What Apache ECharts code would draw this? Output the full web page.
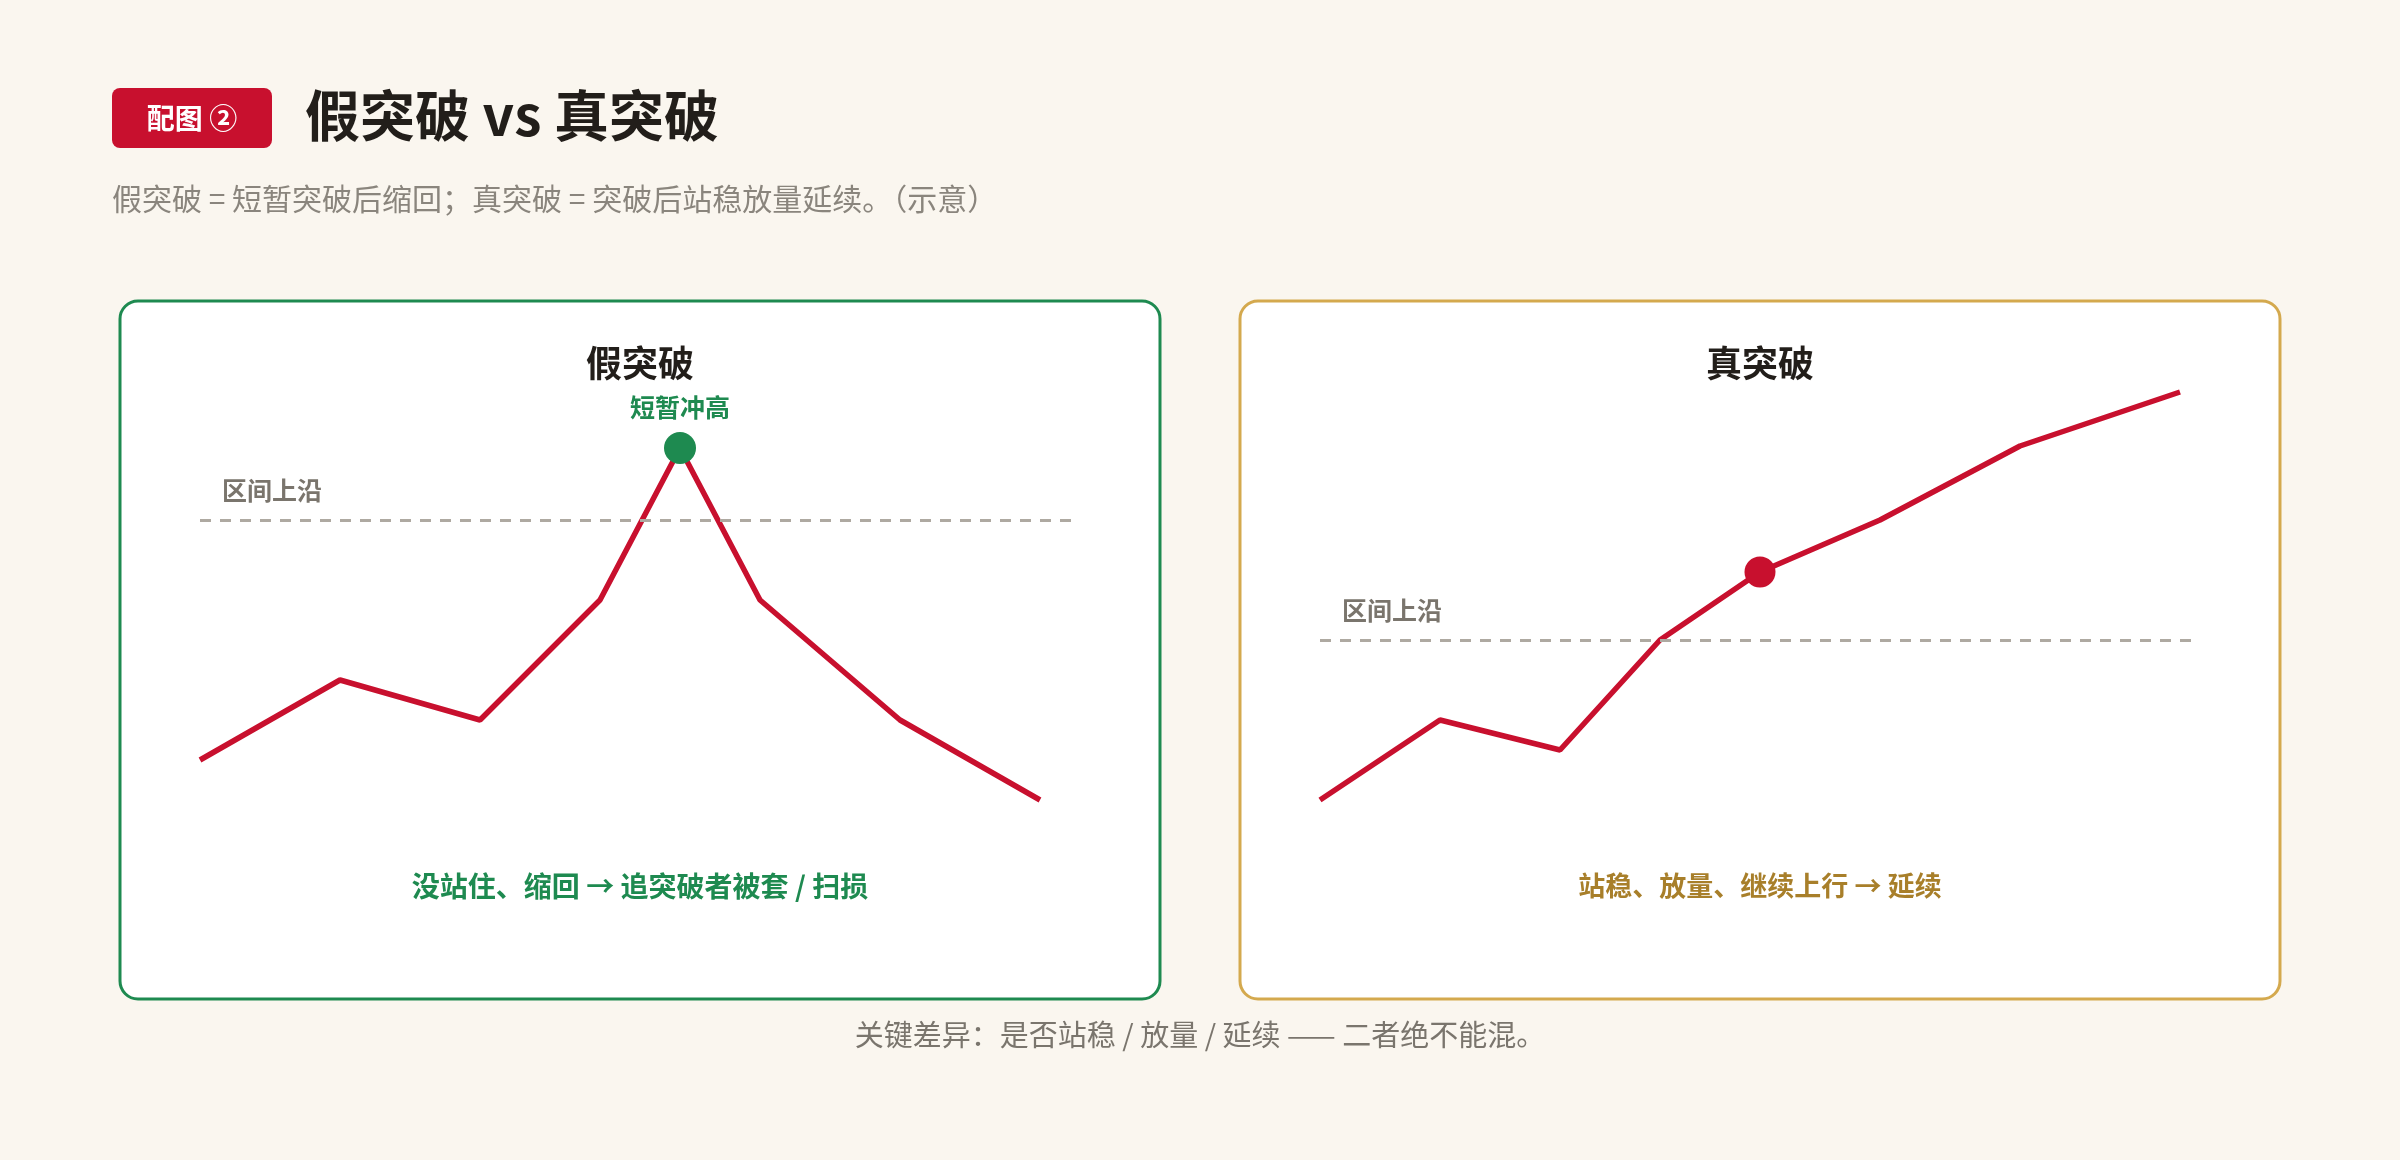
<!DOCTYPE html>
<html>
<head>
<meta charset="utf-8">
<script src="https://cdn.jsdelivr.net/npm/echarts@6/dist/echarts.min.js"></script>
<style>
html,body{margin:0;padding:0;background:#FAF6EF;}
#chart{width:2400px;height:1160px;}
</style>
</head>
<body>
<div id="chart"></div>
<script>
// ---- data ----
const fakeX = [0, 7, 14, 20, 24, 28, 35, 42];
const fakeY = [40, 60, 50, 80, 118, 80, 50, 30];
const fakePeakIndex = 4;
const realX = [0, 6, 12, 17, 22, 28, 35, 43];
const realY = [60, 80, 72.5, 100, 117, 130, 148.5, 162];
const realMarkIndex = 4;
const rangeTop = 100;           // 区间上沿 level (both panels)
const rangeLineX = [0, 43.55];  // extent of the dashed level line
const fakeYRange = [0, 150];
const realYRange = [30, 180];
const xRange = [0, 44];

const texts = {
  badge: '配图 ②',
  title: '假突破 vs 真突破',
  subtitle: '假突破 = 短暂突破后缩回；真突破 = 突破后站稳放量延续。（示意）',
  fakeTitle: '假突破',
  realTitle: '真突破',
  peak: '短暂冲高',
  level: '区间上沿',
  fakeNote: '没站住、缩回 → 追突破者被套 / 扫损',
  realNote: '站稳、放量、继续上行 → 延续',
  footer: '关键差异：是否站稳 / 放量 / 延续 —— 二者绝不能混。'
};

const RED = '#C8102E', GREEN = '#1E8A50', GOLD = '#D4A94E', GOLDTXT = '#A87F2A';
const GRAY = '#7A756D', DASH = '#AEA9A1';
const FONT = '"Noto Sans CJK SC","Noto Sans",sans-serif';

const fakeData = fakeX.map((x, i) => {
  const p = { value: [x, fakeY[i]] };
  if (i === fakePeakIndex) {
    p.symbol = 'circle'; p.symbolSize = 32;
    p.itemStyle = { color: GREEN };
    p.label = { show: true, formatter: texts.peak, position: 'top', distance: 12,
      color: GREEN, fontSize: 25, fontWeight: 'bold', fontFamily: FONT };
  }
  return p;
});
const realData = realX.map((x, i) => {
  const p = { value: [x, realY[i]] };
  if (i === realMarkIndex) {
    p.symbol = 'circle'; p.symbolSize = 31;
    p.itemStyle = { color: RED };
  }
  return p;
});

function levelLine() {
  return {
    silent: true, symbol: 'none',
    lineStyle: { color: DASH, width: 3, type: [11, 9] },
    label: { show: true, position: 'insideStartTop', formatter: texts.level,
      color: GRAY, fontSize: 25, fontWeight: 'bold', fontFamily: FONT, distance: [22, 17] },
    data: [[{ coord: [rangeLineX[0], rangeTop] }, { coord: [rangeLineX[1], rangeTop] }]]
  };
}

const chart = echarts.init(document.getElementById('chart'), null, { renderer: 'canvas' });
chart.setOption({
  backgroundColor: '#FAF6EF',
  animation: false,
  grid: [
    { left: 200, top: 320, width: 880, height: 600 },
    { left: 1320, top: 320, width: 880, height: 600 }
  ],
  xAxis: [
    { type: 'value', gridIndex: 0, min: xRange[0], max: xRange[1], show: false },
    { type: 'value', gridIndex: 1, min: xRange[0], max: xRange[1], show: false }
  ],
  yAxis: [
    { type: 'value', gridIndex: 0, min: fakeYRange[0], max: fakeYRange[1], show: false },
    { type: 'value', gridIndex: 1, min: realYRange[0], max: realYRange[1], show: false }
  ],
  graphic: [
    { type: 'rect', z: -10, shape: { x: 120, y: 301, width: 1040, height: 698, r: 18 },
      style: { fill: '#FFFFFF', stroke: GREEN, lineWidth: 3 } },
    { type: 'rect', z: -10, shape: { x: 1240, y: 301, width: 1040, height: 698, r: 18 },
      style: { fill: '#FFFFFF', stroke: GOLD, lineWidth: 3 } },
    { type: 'rect', shape: { x: 112, y: 88, width: 160, height: 60, r: 8 },
      style: { fill: RED } },
    { type: 'text', style: { x: 192, y: 118, text: texts.badge, fill: '#FFFFFF',
      font: 'bold 28px ' + FONT, textAlign: 'center', textVerticalAlign: 'middle' } },
    { type: 'text', style: { x: 305, y: 115, text: texts.title, fill: '#221E1A',
      font: 'bold 55px ' + FONT, textAlign: 'left', textVerticalAlign: 'middle' } },
    { type: 'text', style: { x: 112, y: 199, text: texts.subtitle, fill: '#8A857D',
      font: '30px ' + FONT, textAlign: 'left', textVerticalAlign: 'middle' } },
    { type: 'text', style: { x: 640, y: 363, text: texts.fakeTitle, fill: '#221E1A',
      font: 'bold 36px ' + FONT, textAlign: 'center', textVerticalAlign: 'middle' } },
    { type: 'text', style: { x: 1760, y: 363, text: texts.realTitle, fill: '#221E1A',
      font: 'bold 36px ' + FONT, textAlign: 'center', textVerticalAlign: 'middle' } },
    { type: 'text', style: { x: 640, y: 886, text: texts.fakeNote, fill: GREEN,
      font: 'bold 28px ' + FONT, textAlign: 'center', textVerticalAlign: 'middle' } },
    { type: 'text', style: { x: 1760, y: 886, text: texts.realNote, fill: GOLDTXT,
      font: 'bold 27px ' + FONT, textAlign: 'center', textVerticalAlign: 'middle' } },
    { type: 'text', style: { x: 1200, y: 1035, text: texts.footer, fill: GRAY,
      font: '29px ' + FONT, textAlign: 'center', textVerticalAlign: 'middle' } }
  ],
  series: [
    { type: 'line', xAxisIndex: 0, yAxisIndex: 0, data: fakeData, symbol: 'none',
      showSymbol: true, lineStyle: { color: RED, width: 5.5 }, itemStyle: { color: RED },
      markLine: levelLine(), z: 3 },
    { type: 'line', xAxisIndex: 1, yAxisIndex: 1, data: realData, symbol: 'none',
      showSymbol: true, lineStyle: { color: RED, width: 5.5 }, itemStyle: { color: RED },
      markLine: levelLine(), z: 3 }
  ]
});
</script>
</body>
</html>
